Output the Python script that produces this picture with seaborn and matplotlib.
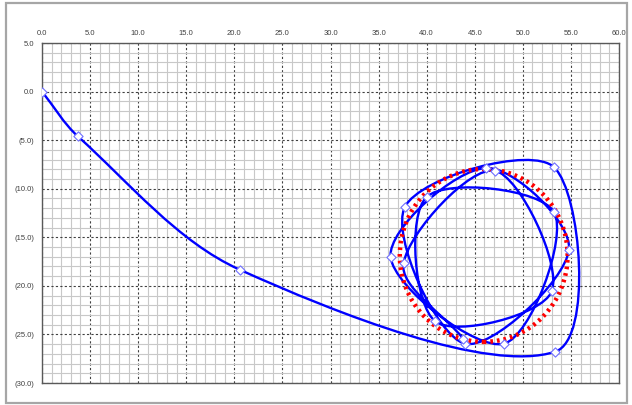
import numpy as np
import matplotlib
matplotlib.use("Agg")
import matplotlib.pyplot as plt
from matplotlib.path import Path
from matplotlib.patches import PathPatch, Ellipse, Rectangle
from matplotlib.ticker import MultipleLocator, FuncFormatter
import seaborn as sns
import pandas as pd

# ---- data ----
track_x = [0.0, 3.72, 20.55, 53.36, 53.26, 37.74, 43.96, 54.80, 46.20, 36.25,
           48.05, 53.26, 40.00, 40.90, 53.00, 47.08, 37.60, 43.80]
track_y = [0.0, -4.60, -18.33, -26.78, -7.80, -11.87, -25.95, -16.27, -7.86, -17.02,
           -25.95, -12.43, -10.84, -23.66, -20.57, -8.14, -17.64, -25.44]
circle_center = (45.93, -16.87)
circle_w = 17.45
circle_h = 17.8

sns.set_style("white")
plt.rcParams['font.family'] = ['Liberation Sans', 'DejaVu Sans']

fig = plt.figure(figsize=(6.32, 4.05), dpi=100)
ax = fig.add_axes([42/632, 1-383/405, (619-42)/632, (383-43)/405])

# figure border
fig.patches.append(Rectangle((6/632, 2/405), 621/632, 400/405, transform=fig.transFigure,
                             fill=False, edgecolor='#a6a6a6', linewidth=1.6))

ax.set_xlim(0, 60)
ax.set_ylim(-30, 5)

ax.xaxis.set_major_locator(MultipleLocator(5))
ax.xaxis.set_minor_locator(MultipleLocator(1))
ax.yaxis.set_major_locator(MultipleLocator(5))
ax.yaxis.set_minor_locator(MultipleLocator(1))
ax.grid(which='minor', color='#c8c8c8', linewidth=0.8, linestyle='-', zorder=0)
ax.grid(which='major', color='#404040', linewidth=0.8, linestyle=(0, (2, 2)), zorder=0.5)
ax.set_axisbelow(True)

def fmt(v, pos):
    if v < 0:
        return "({:.1f})".format(-v)
    return "{:.1f}".format(v)

ax.xaxis.set_major_formatter(FuncFormatter(fmt))
ax.yaxis.set_major_formatter(FuncFormatter(fmt))
ax.xaxis.tick_top()
ax.tick_params(which='both', length=0, labelsize=5.5, labelcolor='#404040')
ax.tick_params(axis='x', pad=4.5)
ax.tick_params(axis='y', pad=5.5)
for s in ax.spines.values():
    s.set_color('#595959')
    s.set_linewidth(1.0)

# smoothed track (bezier smoothing, chord-weighted tangents)
P = np.column_stack([track_x, track_y])
n = len(P)
verts = [tuple(P[0])]
codes = [Path.MOVETO]
for i in range(n - 1):
    p0 = P[i - 1] if i > 0 else P[i]
    p1 = P[i]
    p2 = P[i + 1]
    p3 = P[i + 2] if i + 2 < n else P[i + 1]
    d01 = np.linalg.norm(p1 - p0)
    d12 = np.linalg.norm(p2 - p1)
    d23 = np.linalg.norm(p3 - p2)
    f1 = d12 / (d01 + d12) if d01 + d12 > 0 else 0.5
    f2 = d12 / (d12 + d23) if d12 + d23 > 0 else 0.5
    c1 = p1 + (p2 - p0) * f1 / 3.0
    c2 = p2 - (p3 - p1) * f2 / 3.0
    verts += [tuple(c1), tuple(c2), tuple(p2)]
    codes += [Path.CURVE4] * 3
ax.add_patch(PathPatch(Path(verts, codes), fill=False, edgecolor='#0000ff', linewidth=1.7, zorder=3))

# red dotted circle
ax.add_patch(Ellipse(circle_center, circle_w, circle_h, fill=False, edgecolor='#ff0000',
                     linewidth=3.2, linestyle=(0, (0.6, 0.9)), zorder=4))

df = pd.DataFrame({'x': track_x, 'y': track_y})
sns.scatterplot(data=df, x='x', y='y', marker='D', s=22, facecolor='white',
                edgecolor='#7070ff', linewidth=0.8, zorder=5, ax=ax)
ax.set_xlabel('')
ax.set_ylabel('')
ax.set_xlim(0, 60)
ax.set_ylim(-30, 5)

fig.savefig('out.png', dpi=100)
